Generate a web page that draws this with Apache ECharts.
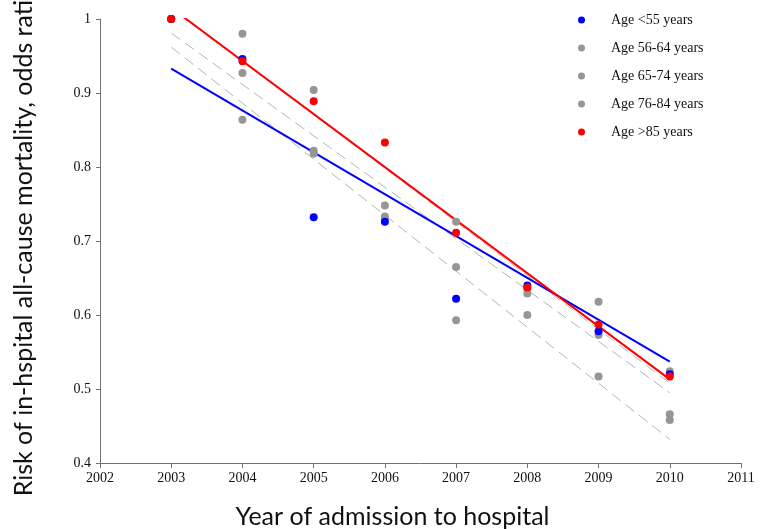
<!DOCTYPE html>
<html>
<head>
<meta charset="utf-8">
<script src="https://cdn.jsdelivr.net/npm/echarts@6/dist/echarts.min.js"></script>
<style>
  html, body { margin: 0; padding: 0; background: #fff; }
  #chart { width: 765px; height: 529px; }
</style>
</head>
<body>
<div id="chart"></div>
<script>
// Admission years
const years = [2003, 2004, 2005, 2006, 2007, 2008, 2009, 2010];

// Odds ratios of in-hospital all-cause mortality by age group
const ageUnder55 = [1.000, 0.946, 0.732, 0.726, 0.622, 0.640, 0.578, 0.520];
const age56to64  = [1.000, 0.980, 0.904, 0.748, 0.726, 0.635, 0.618, 0.524];
const age65to74  = [1.000, 0.927, 0.822, 0.733, 0.665, 0.629, 0.573, 0.466];
const age76to84  = [1.000, 0.864, 0.818, 0.729, 0.593, 0.600, 0.517, 0.458];
const ageOver85  = [1.000, 0.943, 0.889, 0.833, 0.711, 0.637, 0.587, 0.517];

// Linear trend values at the first and last year
const trendYears     = [2003, 2010];
const trendUnder55   = [0.933, 0.537];
const trend56to64    = [1.016, 0.508];
const trend65to74    = [0.981, 0.495];
const trend76to84    = [0.962, 0.432];
const trendOver85    = [1.015, 0.513];

const groupNames = ['Age <55 years', 'Age 56-64 years', 'Age 65-74 years', 'Age 76-84 years', 'Age >85 years'];

const BLUE = '#0000ff';
const RED = '#ff0000';
const GRAY = '#969696';
const DASH = '#b4b4b4';

const pair = (xs, ys) => xs.map((x, i) => [x, ys[i]]);

function trendSeries(values, color, width, dashed) {
  return {
    type: 'line',
    data: pair(trendYears, values),
    symbol: 'none',
    silent: true,
    clip: true,
    z: 2,
    lineStyle: { color: color, width: width, type: dashed ? [11, 6] : 'solid' }
  };
}

function pointSeries(name, values, color, z) {
  return {
    name: name,
    type: 'scatter',
    data: pair(years, values),
    symbol: 'circle',
    symbolSize: 8,
    clip: false,
    z: z,
    itemStyle: { color: color, opacity: 1 }
  };
}

const chart = echarts.init(document.getElementById('chart'), null, { renderer: 'canvas' });

chart.setOption({
  animation: false,
  backgroundColor: '#fff',
  grid: { left: 100, right: 24, top: 19, bottom: 66, containLabel: false, outerBoundsMode: 'none' },
  legend: {
    data: groupNames.map(n => ({ name: n, icon: 'circle' })),
    orient: 'vertical',
    left: 573,
    top: 8,
    itemWidth: 7,
    itemHeight: 7,
    itemGap: 14,
    textStyle: {
      fontFamily: 'Liberation Serif',
      fontSize: 14,
      color: '#111',
      lineHeight: 14,
      padding: [0, 0, 0, 21]
    }
  },
  xAxis: {
    type: 'value',
    min: 2002,
    max: 2011,
    interval: 1,
    name: 'Year of admission to hospital',
    nameLocation: 'middle',
    nameGap: 41,
    nameTextStyle: {
      fontFamily: 'Lato',
      fontSize: 25,
      color: '#111',
      padding: [0, 56, 0, 0]
    },
    splitLine: { show: false },
    axisLine: { lineStyle: { color: '#707070', width: 1 } },
    axisTick: { show: true, inside: false, length: 5, lineStyle: { color: '#707070' } },
    axisLabel: {
      formatter: v => String(v),
      fontFamily: 'Liberation Serif',
      fontSize: 14,
      color: '#111',
      margin: 8
    }
  },
  yAxis: {
    type: 'value',
    min: 0.4,
    max: 1,
    interval: 0.1,
    name: 'Risk of in-hspital all-cause mortality, odds ratio',
    nameLocation: 'middle',
    nameGap: 64,
    nameTextStyle: {
      fontFamily: 'Lato',
      fontSize: 25,
      color: '#111'
    },
    splitLine: { show: false },
    axisLine: { show: true, lineStyle: { color: '#707070', width: 1 } },
    axisTick: { show: true, inside: false, length: 4, lineStyle: { color: '#707070' } },
    axisLabel: {
      fontFamily: 'Liberation Serif',
      fontSize: 14,
      color: '#111',
      margin: 9
    }
  },
  series: [
    trendSeries(trend56to64, DASH, 1, true),
    trendSeries(trend65to74, DASH, 1, true),
    trendSeries(trend76to84, DASH, 1, true),
    trendSeries(trendUnder55, BLUE, 2, false),
    trendSeries(trendOver85, RED, 2, false),
    pointSeries(groupNames[1], age56to64, GRAY, 3),
    pointSeries(groupNames[2], age65to74, GRAY, 3),
    pointSeries(groupNames[3], age76to84, GRAY, 3),
    pointSeries(groupNames[0], ageUnder55, BLUE, 4),
    pointSeries(groupNames[4], ageOver85, RED, 5)
  ]
});
</script>
</body>
</html>
